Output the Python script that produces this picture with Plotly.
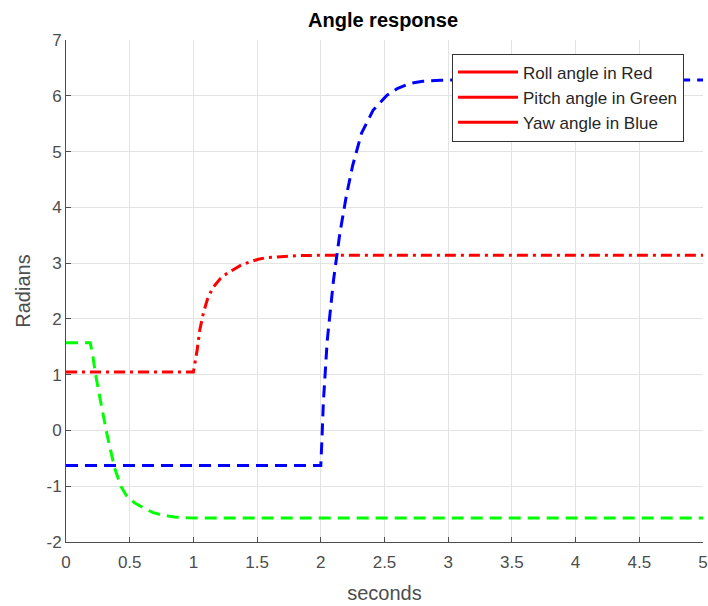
import plotly.graph_objects as go

# Roll angle (red, dash-dot)
roll_t = [0, 1.0, 1.03, 1.05, 1.08, 1.11, 1.15, 1.21, 1.26, 1.31, 1.37, 1.44, 1.51, 1.58, 1.7, 1.84, 2.0, 2.5, 3.0, 4.0, 5.0]
roll_v = [1.047, 1.047, 1.45, 1.8, 2.12, 2.35, 2.55, 2.72, 2.81, 2.88, 2.96, 3.02, 3.07, 3.1, 3.12, 3.135, 3.14, 3.1416, 3.1416, 3.1416, 3.1416]

# Pitch angle (green, dashed)
pitch_t = [0, 0.19, 0.21, 0.23, 0.27, 0.32, 0.38, 0.43, 0.48, 0.54, 0.61, 0.68, 0.76, 0.85, 0.95, 1.1, 1.5, 2.0, 3.0, 4.0, 5.0]
pitch_v = [1.571, 1.571, 1.35, 1.03, 0.54, -0.05, -0.66, -1.0, -1.19, -1.3, -1.39, -1.47, -1.52, -1.55, -1.565, -1.571, -1.571, -1.571, -1.571, -1.571, -1.571]

# Yaw angle (blue, dashed)
yaw_t = [0, 2.0, 2.01, 2.02, 2.05, 2.1, 2.15, 2.2, 2.25, 2.32, 2.41, 2.52, 2.6, 2.7, 2.8, 2.94, 3.2, 4.0, 5.0]
yaw_v = [-0.63, -0.63, -0.1, 0.5, 1.6, 2.7, 3.54, 4.2, 4.75, 5.33, 5.74, 6.01, 6.13, 6.22, 6.26, 6.28, 6.283, 6.283, 6.283]

legend_labels = ["Roll angle in Red", "Pitch angle in Green", "Yaw angle in Blue"]

x_ticks = [0, 0.5, 1, 1.5, 2, 2.5, 3, 3.5, 4, 4.5, 5]
x_tick_text = ["0", "0.5", "1", "1.5", "2", "2.5", "3", "3.5", "4", "4.5", "5"]
y_ticks = [-2, -1, 0, 1, 2, 3, 4, 5, 6, 7]
y_tick_text = ["-2", "-1", "0", "1", "2", "3", "4", "5", "6", "7"]

FONT = "Liberation Sans, Arial, Helvetica, sans-serif"

fig = go.Figure()
fig.add_trace(go.Scatter(x=roll_t, y=roll_v, mode="lines", showlegend=False,
                         line=dict(color="#ff0000", width=3, dash="11px,5px,3px,5px")))
fig.add_trace(go.Scatter(x=pitch_t, y=pitch_v, mode="lines", showlegend=False,
                         line=dict(color="#00ff00", width=3, dash="12px,7px")))
fig.add_trace(go.Scatter(x=yaw_t, y=yaw_v, mode="lines", showlegend=False,
                         line=dict(color="#0000ff", width=3, dash="12px,7px")))
# Legend entries (all drawn as solid red lines in the reference)
for lab in legend_labels:
    fig.add_trace(go.Scatter(x=[None], y=[None], mode="lines", name=lab,
                             line=dict(color="#ff0000", width=3)))

axis_common = dict(
    showgrid=True, gridcolor="#e3e3e3", gridwidth=1,
    showline=True, linecolor="#4d4d4d", linewidth=1,
    ticks="inside", ticklen=5, tickcolor="#4d4d4d",
    tickfont=dict(family=FONT, size=17, color="#4d4d4d"),
    zeroline=False, mirror=False, automargin=False,
)

fig.update_layout(
    width=708, height=606,
    margin=dict(l=66, r=5, t=40, b=64),
    paper_bgcolor="white", plot_bgcolor="white",
    title=dict(text="<b>Angle response</b>", x=0.541, xanchor="center", y=0.967, yanchor="middle",
               font=dict(family=FONT, size=20, color="black")),
    xaxis=dict(range=[0, 5], tickvals=x_ticks, ticktext=x_tick_text, ticklabelstandoff=5,
               title=dict(text="seconds", font=dict(family=FONT, size=20, color="#4d4d4d"), standoff=14),
               **axis_common),
    yaxis=dict(range=[-2, 7], tickvals=y_ticks, ticktext=y_tick_text,
               title=dict(text="Radians", font=dict(family=FONT, size=20, color="#4d4d4d"), standoff=10),
               **axis_common),
    legend=dict(x=0.606, y=0.973, xanchor="left", yanchor="top",
                bgcolor="white", bordercolor="#333333", borderwidth=1,
                font=dict(family=FONT, size=17, color="#262626"),
                tracegroupgap=0, itemwidth=60),
    showlegend=True,
)

fig.write_html("out.html")
